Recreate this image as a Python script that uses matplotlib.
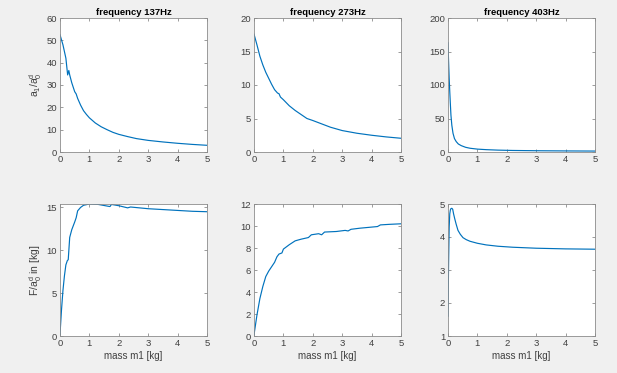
import matplotlib
matplotlib.use('Agg')
import matplotlib.pyplot as plt
import numpy as np

plt.rcParams['font.family'] = ['Liberation Sans', 'DejaVu Sans']
plt.rcParams['mathtext.default'] = 'regular'

# frequency 137Hz
x137_top = [0, 0.1, 0.2, 0.26, 0.3, 0.33, 0.4, 0.5, 0.55, 0.6, 0.7, 0.8, 0.9, 1.0,
            1.2, 1.4, 1.6, 1.8, 2.0, 2.3, 2.6, 3.0, 3.5, 4.0, 4.5, 5.0]
y137_top = [52.5, 48, 42, 34.5, 36.5, 34.5, 31, 27, 26, 24, 21, 18.5, 16.8, 15.3,
            13, 11.3, 10, 8.8, 7.9, 6.9, 6.0, 5.2, 4.5, 3.9, 3.4, 3.0]
x137_bot = [0, 0.05, 0.1, 0.15, 0.2, 0.25, 0.28, 0.33, 0.4, 0.5, 0.55, 0.6, 0.7, 0.8,
            1.0, 1.3, 1.7, 1.75, 2.0, 2.3, 2.4, 3.0, 3.5, 4.0, 4.5, 5.0]
y137_bot = [0.2, 3.0, 5.3, 7.0, 8.3, 8.8, 8.9, 11.5, 12.4, 13.3, 13.8, 14.6, 15.0, 15.25,
            15.4, 15.35, 15.1, 15.35, 15.2, 14.95, 15.05, 14.85, 14.75, 14.65, 14.55, 14.5]

# frequency 273Hz
x273_top = [0, 0.1, 0.2, 0.3, 0.4, 0.5, 0.6, 0.7, 0.8, 0.85, 0.9, 1.0, 1.2, 1.4, 1.6,
            1.8, 2.0, 2.3, 2.6, 3.0, 3.5, 4.0, 4.5, 5.0]
y273_top = [17.6, 16.0, 14.3, 13.0, 11.9, 11.0, 10.1, 9.3, 8.8, 8.7, 8.2, 7.8, 6.9, 6.2, 5.6,
            5.0, 4.7, 4.2, 3.7, 3.2, 2.8, 2.5, 2.25, 2.05]
x273_bot = [0, 0.1, 0.2, 0.3, 0.4, 0.5, 0.6, 0.7, 0.78, 0.85, 0.9, 0.95, 1.0, 1.1, 1.2,
            1.4, 1.6, 1.85, 1.95, 2.2, 2.3, 2.4, 2.8, 3.1, 3.2, 3.3, 3.6, 4.2, 4.3, 4.6, 5.0]
y273_bot = [0.1, 1.9, 3.4, 4.5, 5.4, 5.9, 6.3, 6.7, 7.2, 7.45, 7.5, 7.55, 7.9, 8.1, 8.3,
            8.65, 8.8, 8.95, 9.2, 9.3, 9.2, 9.45, 9.5, 9.6, 9.55, 9.7, 9.8, 9.95, 10.1, 10.15, 10.2]

# frequency 403Hz
x403_top = [0, 0.02, 0.04, 0.06, 0.08, 0.1, 0.13, 0.17, 0.22, 0.28, 0.35, 0.45, 0.6, 0.75,
            1.0, 1.3, 1.7, 2.2, 3.0, 4.0, 5.0]
y403_top = [163, 135, 110, 90, 72, 55, 40, 28, 20, 15.5, 12, 9.5, 7, 5.6,
            4.3, 3.5, 2.8, 2.3, 1.9, 1.6, 1.4]
x403_bot = [0, 0.02, 0.04, 0.06, 0.08, 0.1, 0.13, 0.16, 0.19, 0.23, 0.28, 0.34, 0.42, 0.51,
            0.62, 0.75, 1.0, 1.3, 1.7, 2.2, 3.0, 4.0, 5.0]
y403_bot = [1.6, 3.2, 4.3, 4.7, 4.82, 4.86, 4.87, 4.84, 4.7, 4.55, 4.38, 4.2, 4.08, 3.98,
            3.92, 3.87, 3.81, 3.76, 3.72, 3.69, 3.66, 3.64, 3.63]

titles = ['frequency 137Hz', 'frequency 273Hz', 'frequency 403Hz']
top_data = [(x137_top, y137_top), (x273_top, y273_top), (x403_top, y403_top)]
bot_data = [(x137_bot, y137_bot), (x273_bot, y273_bot), (x403_bot, y403_bot)]
top_ylim = [(0, 60), (0, 20), (0, 200)]
top_yticks = [np.arange(0, 61, 10), np.arange(0, 21, 5), np.arange(0, 201, 50)]
bot_ylim = [(0, 15.4), (0, 12), (1, 5)]
bot_yticks = [[0, 5, 10, 15], np.arange(0, 13, 2), np.arange(1, 6, 1)]

W, H = 617, 373
fig = plt.figure(figsize=(W / 100, H / 100), dpi=100, facecolor='#f0f0f0')

lefts = [60, 254, 448]
axw = 147
line_c = '#0072bd'
edge_c = '#8c8c8c'
txt_c = '#404040'


def style(ax):
    ax.set_facecolor('white')
    for s in ax.spines.values():
        s.set_color(edge_c)
        s.set_linewidth(0.6)
    ax.tick_params(direction='in', length=2.5, width=0.6, color=edge_c,
                   labelsize=6.8, labelcolor=txt_c, top=True, right=True, pad=2)
    ax.set_xlim(0, 5)
    ax.set_xticks(range(6))


for i in range(3):
    ax = fig.add_axes([lefts[i] / W, 1 - 152 / H, axw / W, 134 / H])
    ax.plot(*top_data[i], color=line_c, lw=0.85)
    style(ax)
    ax.set_ylim(*top_ylim[i])
    ax.set_yticks(top_yticks[i])
    ax.set_title(titles[i], fontsize=6.8, fontweight='bold', color='black', pad=2)
    if i == 0:
        ax.set_ylabel('a$_1$/a$_0^d$', fontsize=7.5, color=txt_c, labelpad=2)

    ax2 = fig.add_axes([lefts[i] / W, 1 - 336 / H, axw / W, 132 / H])
    ax2.plot(*bot_data[i], color=line_c, lw=0.85)
    style(ax2)
    ax2.set_ylim(*bot_ylim[i])
    ax2.set_yticks(bot_yticks[i])
    ax2.set_xlabel('mass m1 [kg]', fontsize=7, color=txt_c, labelpad=2)
    if i == 0:
        ax2.set_ylabel('F/a$_0^d$ in [kg]', fontsize=7.5, color=txt_c, labelpad=2)

fig.savefig('out.png', dpi=100, facecolor=fig.get_facecolor())
